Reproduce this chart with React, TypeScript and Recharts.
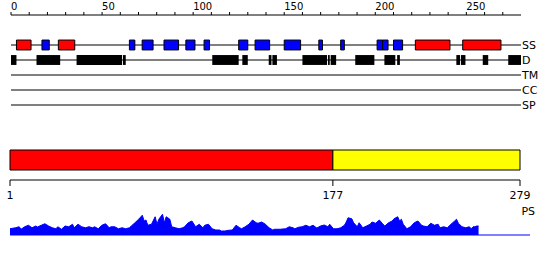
import React from "react";
import { ComposedChart, AreaChart, Area, Line, XAxis, YAxis, ReferenceLine, ReferenceArea } from "recharts";

// feature tracks, top to bottom
const tracks = ["SS", "D", "TM", "CC", "SP"];

const topTicks = [0, 10, 20, 30, 40, 50, 60, 70, 80, 90, 100, 110, 120, 130, 140, 150, 160, 170, 180, 190, 200, 210, 220, 230, 240, 250, 260, 270];
const topLabels = [0, 50, 100, 150, 200, 250];

// secondary structure: helices (red) and strands (blue), residue ranges
const helices: [number, number][] = [[3, 11], [26, 35], [222, 241], [248, 269]];
const strands: [number, number][] = [
  [17, 21], [65, 68], [72, 78], [84, 92], [96, 101], [106, 109], [125, 130], [134, 142],
  [150, 159], [169, 171], [181, 183], [201, 204], [204, 207], [210, 215],
];

// disordered regions
const disorder: [number, number][] = [
  [0, 3], [14, 27], [36, 61], [61.5, 63], [110.5, 125], [127, 130], [141.5, 143], [143.5, 146],
  [160, 173.5], [174, 175], [175.5, 178.5], [189, 199.5], [205, 211], [212, 213.5],
  [244.5, 246.5], [247, 249.5], [259, 262], [273, 280],
];

// domain split along the sequence
const domainBounds = [1, 177, 279];
const domainFills = ["#ff0000", "#ffff00"];

// PS profile
const psPos = [
  1, 4, 6, 7, 9, 11, 13, 15, 16, 18, 20, 22, 24, 26, 27, 29, 31, 33, 35, 36, 38, 40, 42, 44, 46, 47, 49, 51, 53, 55,
  56, 58, 60, 62, 64, 66, 67, 69, 71, 73, 74, 75, 76, 78, 80, 81, 82, 84, 85, 86, 88, 89, 91, 93, 95, 96, 98, 100, 102, 104,
  106, 107, 109, 111, 113, 115, 116, 118, 120, 122, 124, 126, 127, 129, 131, 133, 135, 136, 138, 140, 142, 144, 145, 148, 151, 153, 155, 156, 158, 160,
  162, 164, 166, 167, 168, 170, 172, 174, 175, 177, 179, 181, 183, 184, 185, 187, 188, 190, 191, 193, 195, 197, 198, 200, 202, 204, 205, 207, 209, 210,
  212, 213, 214, 215, 217, 219, 221, 223, 225, 226, 228, 230, 232, 234, 235, 237, 239, 241, 243, 244, 245, 247, 249, 251, 252, 253, 254, 255, 256,
];
const psScore = [
  0.25, 0.29, 0.33, 0.23, 0.33, 0.39, 0.29, 0.36, 0.32, 0.39, 0.45, 0.36, 0.29, 0.25, 0.33, 0.23, 0.36, 0.33, 0.43, 0.29, 0.43, 0.33, 0.29, 0.33, 0.29, 0.33, 0.25, 0.39, 0.45, 0.29,
  0.33, 0.33, 0.25, 0.29, 0.25, 0.29, 0.36, 0.49, 0.63, 0.79, 0.56, 0.6, 0.39, 0.43, 0.73, 0.43, 0.63, 0.83, 0.49, 0.73, 0.63, 0.33, 0.29, 0.25, 0.29, 0.33, 0.49, 0.56, 0.33, 0.43,
  0.29, 0.39, 0.43, 0.25, 0.2, 0.2, 0.16, 0.16, 0.19, 0.2, 0.39, 0.29, 0.25, 0.33, 0.43, 0.6, 0.49, 0.47, 0.52, 0.43, 0.29, 0.2, 0.23, 0.23, 0.25, 0.33, 0.29, 0.25, 0.31, 0.33,
  0.39, 0.33, 0.39, 0.33, 0.28, 0.36, 0.4, 0.33, 0.43, 0.25, 0.25, 0.29, 0.39, 0.52, 0.69, 0.65, 0.49, 0.33, 0.49, 0.29, 0.36, 0.43, 0.52, 0.47, 0.6, 0.43, 0.36, 0.49, 0.56, 0.65,
  0.73, 0.56, 0.63, 0.43, 0.25, 0.33, 0.49, 0.56, 0.39, 0.36, 0.33, 0.47, 0.39, 0.43, 0.29, 0.33, 0.29, 0.43, 0.56, 0.63, 0.47, 0.33, 0.29, 0.33, 0.25, 0.33, 0.33, 0.36, 0.36,
];

const psData = psPos.map((pos, i) => ({ pos, score: psScore[i] }));

// rows used to give the feature chart its data
const featureRows = [
  ...helices.map(([start]) => ({ start, row: 0 })),
  ...strands.map(([start]) => ({ start, row: 0 })),
  ...disorder.map(([start]) => ({ start, row: 1 })),
];
const domainRows = domainBounds.map((pos) => ({ pos, row: 2 }));

const FONT = "DejaVu Sans";
const BOX = 0.33;

const TopTick = (props: any) => {
  const { x, payload } = props;
  if (!topLabels.includes(payload.value)) return <g />;
  return (
    <text x={x} y={10} fontSize={10} fontFamily={FONT} textAnchor="start" fill="#000">
      {payload.value}
    </text>
  );
};

const boxes = (ranges: [number, number][], row: number, fill: string, stroke: string) =>
  ranges.map(([a, b], k) => (
    <ReferenceArea
      key={`${fill}-${k}`}
      x1={a}
      x2={b}
      y1={row - BOX}
      y2={row + BOX}
      fill={fill}
      fillOpacity={1}
      stroke={stroke}
      strokeWidth={1}
      ifOverflow="visible"
      zIndex={600}
    />
  ));

export default function App() {
  return (
    <div style={{ position: "absolute", left: 0, top: 0, width: 550, height: 260, fontFamily: FONT, background: "#fff" }}>
      <div style={{ position: "absolute", left: 0, top: 0 }}>
        <ComposedChart width={550} height={120} data={featureRows} margin={{ top: 0, right: 29, bottom: 0, left: 11 }}>
          <XAxis
            dataKey="start"
            type="number"
            orientation="top"
            domain={[0, 280]}
            ticks={topTicks}
            interval={0}
            height={15}
            tickSize={3}
            tick={TopTick}
            stroke="#000"
            allowDataOverflow
          />
          <YAxis dataKey="row" type="number" hide domain={[-2, 5]} reversed allowDataOverflow />
          <Line dataKey="row" stroke="none" dot={false} activeDot={false} isAnimationActive={false} />
          {tracks.map((t, i) => (
            <ReferenceLine
              key={t}
              y={i}
              stroke="#000"
              strokeWidth={1}
              zIndex={100}
              label={{ value: t, position: "right", offset: 1, fontSize: 11, fill: "#000", fontFamily: FONT }}
            />
          ))}
          {boxes(helices, 0, "#ff0000", "#000")}
          {boxes(strands, 0, "#0000ff", "#000")}
          {boxes(disorder, 1, "#000", "none")}
        </ComposedChart>
      </div>

      <div style={{ position: "absolute", left: 0, top: 140 }}>
        <ComposedChart width={550} height={80} data={domainRows} margin={{ top: 10, right: 30, bottom: 0, left: 10 }}>
          <XAxis
            dataKey="pos"
            type="number"
            domain={[domainBounds[0], domainBounds[domainBounds.length - 1]]}
            ticks={domainBounds}
            interval={0}
            height={40}
            tickSize={6}
            tickMargin={5}
            stroke="#000"
            tick={{ fontSize: 11, fill: "#000", fontFamily: FONT }}
            allowDataOverflow
          />
          <YAxis dataKey="row" type="number" hide domain={[0, 3]} allowDataOverflow />
          <Line dataKey="row" stroke="none" dot={false} activeDot={false} isAnimationActive={false} />
          {domainFills.map((c, i) => (
            <ReferenceArea
              key={i}
              x1={domainBounds[i]}
              x2={domainBounds[i + 1]}
              y1={1}
              y2={3}
              fill={c}
              fillOpacity={1}
              stroke="#000"
              strokeWidth={1}
            />
          ))}
        </ComposedChart>
      </div>

      <div style={{ position: "absolute", left: 0, top: 205 }}>
        <AreaChart width={550} height={35} data={psData} margin={{ top: 5, right: 20, bottom: 5, left: 10 }}>
          <XAxis dataKey="pos" type="number" domain={[1, 284]} hide />
          <YAxis type="number" hide domain={[0, 1]} />
          <Area
            type="linear"
            dataKey="score"
            stroke="#0000ff"
            strokeWidth={1}
            fill="#0000ff"
            fillOpacity={1}
            dot={false}
            activeDot={false}
            isAnimationActive={false}
          />
          <ReferenceLine
            y={0}
            stroke="#0000ff"
            strokeWidth={1}
            label={(p: any) => (
              <text x={p.viewBox.x + p.viewBox.width + 5} y={p.viewBox.y - 20} textAnchor="end" fontSize={11} fontFamily={FONT} fill="#000">
                PS
              </text>
            )}
          />
        </AreaChart>
      </div>
    </div>
  );
}
